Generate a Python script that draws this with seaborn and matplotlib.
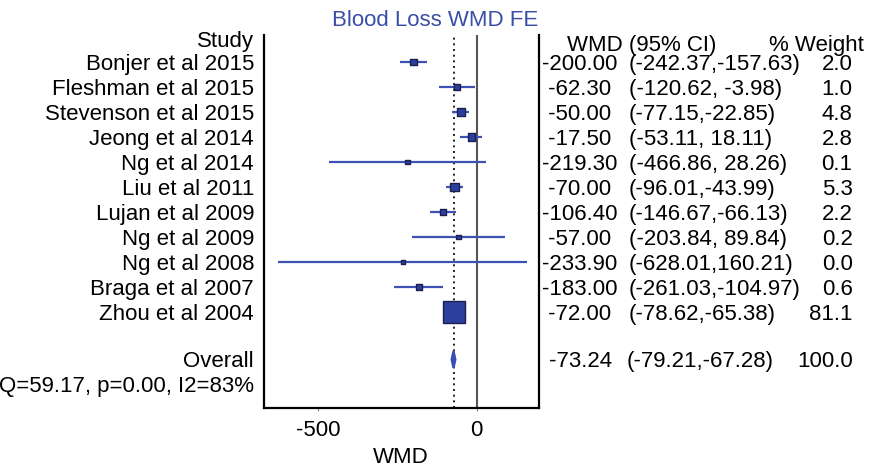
import numpy as np
import pandas as pd
import matplotlib
matplotlib.use("Agg")
import matplotlib.pyplot as plt
import matplotlib.transforms as mtransforms
import seaborn as sns

studies = ["Bonjer et al 2015", "Fleshman et al 2015", "Stevenson et al 2015",
           "Jeong et al 2014", "Ng et al 2014", "Liu et al 2011", "Lujan et al 2009",
           "Ng et al 2009", "Ng et al 2008", "Braga et al 2007", "Zhou et al 2004"]
wmd = [-200.00, -62.30, -50.00, -17.50, -219.30, -70.00, -106.40, -57.00, -233.90, -183.00, -72.00]
ci_low = [-242.37, -120.62, -77.15, -53.11, -466.86, -96.01, -146.67, -203.84, -628.01, -261.03, -78.62]
ci_high = [-157.63, -3.98, -22.85, 18.11, 28.26, -43.99, -66.13, 89.84, 160.21, -104.97, -65.38]
weight = [2.0, 1.0, 4.8, 2.8, 0.1, 5.3, 2.2, 0.2, 0.0, 0.6, 81.1]
wmd_text = ["-200.00", " -62.30", " -50.00", " -17.50", "-219.30", " -70.00", "-106.40",
            " -57.00", "-233.90", "-183.00", " -72.00"]
ci_text = ["(-242.37,-157.63)", "(-120.62, -3.98)", "(-77.15,-22.85)", "(-53.11, 18.11)",
           "(-466.86, 28.26)", "(-96.01,-43.99)", "(-146.67,-66.13)", "(-203.84, 89.84)",
           "(-628.01,160.21)", "(-261.03,-104.97)", "(-78.62,-65.38)"]
weight_text = ["2.0", "1.0", "4.8", "2.8", "0.1", "5.3", "2.2", "0.2", "0.0", "0.6", "81.1"]

overall_label = "Overall"
overall_wmd = -73.24
overall_low = -79.21
overall_high = -67.28
overall_text = [" -73.24", "(-79.21,-67.28)", "100.0"]
het_text = "Q=59.17, p=0.00, I2=83%"
title = "Blood Loss WMD FE"
xticks = [-500, 0]
xlabel = "WMD"

sns.set_theme(style="white")
plt.rcParams["font.family"] = ["Liberation Sans", "DejaVu Sans"]
plt.rcParams["text.color"] = "black"
plt.rcParams["axes.labelcolor"] = "black"
plt.rcParams["xtick.labelcolor"] = "black"

FS = 16
W, H = 880, 467
fig = plt.figure(figsize=(W / 100, H / 100), dpi=100)
ax = fig.add_axes([264 / W, 1 - 408 / H, (538.5 - 264) / W, (408 - 35) / H])

df = pd.DataFrame({"study": studies, "wmd": wmd, "lo": ci_low, "hi": ci_high, "w": weight})
df["row"] = np.arange(len(df))
df["area"] = ((4.0 + 1.95 * np.sqrt(df["w"])) / 1.389) ** 2

line_col = "#3d52b2"
fill_col = "#2c3f9c"

# reference lines
ax.axvline(0, color="#555555", lw=1.5, zorder=1)
ax.axvline(overall_wmd, color="black", lw=1.2, ls=(0, (1.2, 2.2)), zorder=1)

# confidence intervals
ax.hlines(df["row"], df["lo"], df["hi"], color=line_col, lw=1.6, zorder=2)
# study squares
sns.scatterplot(data=df, x="wmd", y="row", marker="s", s=df["area"].tolist(),
                color=fill_col, edgecolor="#1c2050", linewidth=1.0, legend=False,
                ax=ax, zorder=3)

# overall diamond
oy = 11.9
dh = 0.34
ax.fill([overall_low, overall_wmd, overall_high, overall_wmd],
        [oy, oy - dh, oy, oy + dh], facecolor="#3a4fb3", edgecolor="#3a4fb3",
        lw=1.6, joinstyle="miter", zorder=3)

ax.set_xlim(-671.6, 195.1)
ax.set_ylim(13.84, -1.08)
ax.set_xticks(xticks)
ax.set_xticklabels([str(t) for t in xticks], fontsize=FS, color="black")
ax.set_yticks([])
ax.set_xlabel(xlabel, fontsize=FS, labelpad=4.5, color="black")
ax.set_ylabel("")
ax.tick_params(axis="x", bottom=True, length=2.5, width=0.8, color="#888888", pad=6.0)
for s in ["left", "bottom", "right"]:
    ax.spines[s].set_visible(True)
    ax.spines[s].set_color("black")
    ax.spines[s].set_linewidth(1.6)
ax.spines["top"].set_visible(False)
ax.grid(False)

tr = mtransforms.blended_transform_factory(fig.transFigure, ax.transData)
BO = 0.31  # baseline offset in row units
lx = 254 / W
kw = dict(transform=tr, va="baseline", fontsize=FS, clip_on=False, color="black")
ax.text(lx, -0.61, "Study", ha="right", **kw)
for i, name in enumerate(studies):
    ax.text(lx, i + BO, name, ha="right", **kw)
ax.text(lx, oy + BO, overall_label, ha="right", **kw)
ax.text(lx, 13.2, het_text, ha="right", **kw)

c1 = 541.5 / W
c2 = 628.5 / W
c3 = 852.5 / W
ax.text(567 / W, -0.46, "WMD (95% CI)", ha="left", **kw)
ax.text(863.5 / W, -0.46, "% Weight", ha="right", **kw)
for i in range(len(studies)):
    ax.text(c1, i + BO, wmd_text[i], ha="left", **kw)
    ax.text(c2, i + BO, ci_text[i], ha="left", **kw)
    ax.text(c3, i + BO, weight_text[i], ha="right", **kw)
ax.text(c1 + 1.5 / W, oy + BO, overall_text[0], ha="left", **kw)
ax.text(c2 - 2 / W, oy + BO, overall_text[1], ha="left", **kw)
ax.text(c3, oy + BO, overall_text[2], ha="right", **kw)

fig.text(435.5 / W, 1 - 26 / H, title, ha="center", va="baseline", fontsize=FS, color="#3a4ea6")

fig.savefig("out.png", dpi=100, facecolor="white")
